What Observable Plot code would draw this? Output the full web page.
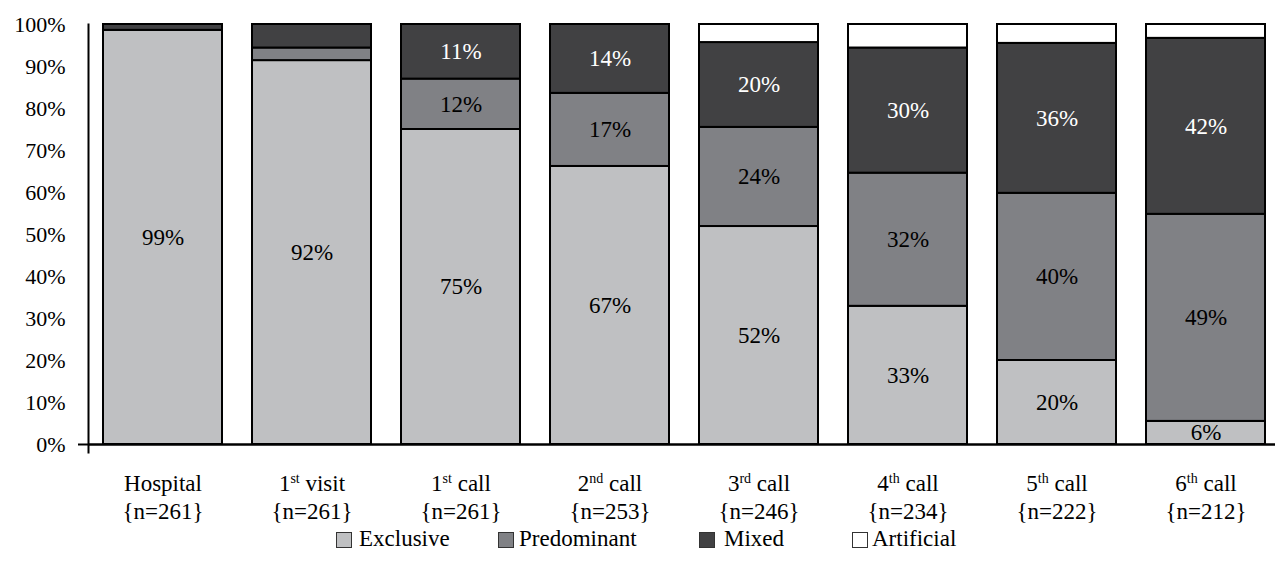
<!DOCTYPE html>
<html><head><meta charset="utf-8">
<script src="https://cdn.jsdelivr.net/npm/d3@7"></script>
<script src="https://cdn.jsdelivr.net/npm/@observablehq/plot@0.6"></script>
<style>
body{margin:0;background:#fff;font-family:"Liberation Serif","Times New Roman",serif;}
#legend{position:relative;height:51px;width:1275px;font-size:23px;color:#000;}
#legend .box{position:absolute;width:14px;height:14px;border:1.5px solid #333;top:4px;}
#legend .lab{position:absolute;top:-3px;line-height:27px;white-space:nowrap;}
</style></head><body>
<div id="chart"></div>
<div id="legend"></div>
<script>
const categories = ["Hospital","1st visit","1st call","2nd call","3rd call","4th call","5th call","6th call"];
const sampleSizes = [261,261,261,253,246,234,222,212];
const series = ["Exclusive","Predominant","Mixed","Artificial"];
const colors = ["#bfc0c2","#808185","#414143","#ffffff"];
const exclusive   = [98.6, 91.4, 75.0, 66.2, 51.9, 32.9, 20.0, 5.5];
const predominant = [0.0, 3.0, 12.0, 17.4, 23.6, 31.7, 39.8, 49.3];
const mixed       = [1.4, 5.6, 13.0, 16.4, 20.2, 29.8, 35.7, 41.9];
const artificial  = [0.0, 0.0, 0.0, 0.0, 4.3, 5.6, 4.5, 3.3];
const exclusiveLabels   = ["99%","92%","75%","67%","52%","33%","20%","6%"];
const predominantLabels = [null,null,"12%","17%","24%","32%","40%","49%"];
const mixedLabels       = [null,null,"11%","14%","20%","30%","36%","42%"];
const yTicks = [0,10,20,30,40,50,60,70,80,90,100];

const valuesBySeries = [exclusive, predominant, mixed, artificial];
const labelsBySeries = [exclusiveLabels, predominantLabels, mixedLabels, categories.map(() => null)];
const rows = [];
categories.forEach((c, i) => {
  series.forEach((s, j) => {
    rows.push({category: c, series: s, value: valuesBySeries[j][i], label: labelsBySeries[j][i]});
  });
});

const chart = Plot.plot({
  width: 1275,
  height: 528,
  marginTop: 24,
  marginBottom: 76,
  marginLeft: 88,
  marginRight: 0,
  x: {domain: categories, range: [88, 1280], paddingInner: 0.2, paddingOuter: 0.1, label: null, axis: null},
  y: {domain: [0, 100], range: [444, 24], label: null, axis: null},
  color: {domain: series, range: colors},
  style: {fontFamily: "'Liberation Serif', 'Times New Roman', serif", fontSize: "23px", color: "black", background: "white"},
  marks: [
    Plot.barY(rows, {x: "category", y: "value", fill: "series", stroke: "black", strokeWidth: 2, filter: d => d.value > 0}),
    Plot.text(rows, Plot.stackY({x: "category", y: "value", text: d => d.series === "Mixed" ? null : d.label, fill: "black", fontSize: 23})),
    Plot.text(rows, Plot.stackY({x: "category", y: "value", text: d => d.series === "Mixed" ? d.label : null, fill: "white", fontSize: 23})),
    Plot.ruleY([0], {stroke: "black", strokeWidth: 2.5}),
    Plot.frame({anchor: "left", stroke: "black", strokeWidth: 2}),
    Plot.axisY({ticks: [0], tickSize: 10, tickFormat: () => "", strokeWidth: 2}),
    Plot.axisY({ticks: yTicks, tickSize: 0, tickPadding: 23, fontSize: 22, tickFormat: d => d + "%"}),
    Plot.axisX({tickSize: 0, tickPadding: 19, fontSize: 23, lineHeight: 1.22,
      tickFormat: d => d + "\n{n=" + sampleSizes[categories.indexOf(d)] + "}"})
  ]
});
document.getElementById("chart").appendChild(chart);

// superscript ordinals in x tick labels
const svgns = "http://www.w3.org/2000/svg";
chart.querySelectorAll('g[aria-label="x-axis tick label"] text').forEach(t => {
  const first = t.querySelector("tspan") || t;
  const m = /^(\d)(st|nd|rd|th)( .*)$/.exec(first.textContent);
  if (!m) return;
  first.textContent = m[1];
  const sup = document.createElementNS(svgns, "tspan");
  sup.setAttribute("font-size", "14");
  sup.setAttribute("dy", "-8");
  sup.textContent = m[2];
  const rest = document.createElementNS(svgns, "tspan");
  rest.setAttribute("dy", "8");
  rest.textContent = m[3];
  first.appendChild(sup);
  first.appendChild(rest);
});

// legend
const legendPos = [[336, 359], [498, 519], [699, 724], [852, 872]];
const legend = document.getElementById("legend");
series.forEach((s, j) => {
  const b = document.createElement("div");
  b.className = "box";
  b.style.left = legendPos[j][0] + "px";
  b.style.background = colors[j];
  legend.appendChild(b);
  const l = document.createElement("div");
  l.className = "lab";
  l.style.left = legendPos[j][1] + "px";
  l.textContent = s;
  legend.appendChild(l);
});
</script>
</body></html>
